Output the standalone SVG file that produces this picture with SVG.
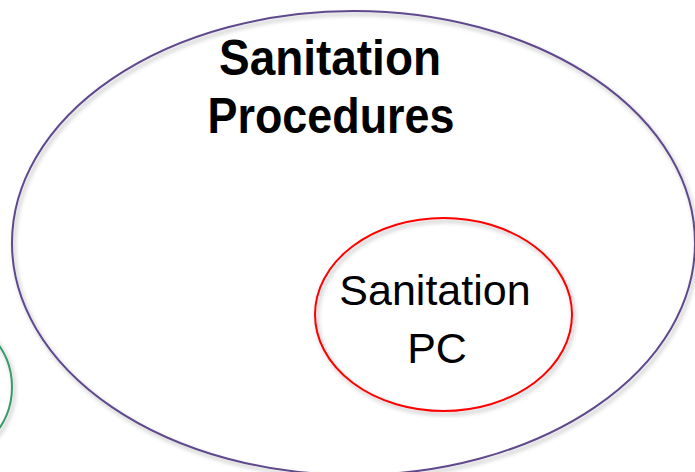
<svg xmlns="http://www.w3.org/2000/svg" width="695" height="472" viewBox="0 0 695 472">
<defs>
<filter id="sh" x="-10%" y="-10%" width="120%" height="120%">
<feDropShadow dx="2" dy="3" stdDeviation="2" flood-color="#000" flood-opacity="0.3"/>
</filter>
<style>
.shape{fill:none;stroke-width:2;filter:url(#sh)}
.title{font-family:"Liberation Sans",Arial,sans-serif;font-weight:bold;font-size:50px;fill:#000;text-anchor:middle}
.label{font-family:"Liberation Sans",Arial,sans-serif;font-size:43px;fill:#000;text-anchor:middle}
</style>
</defs>
<rect width="695" height="472" fill="#fff"/>
<g id="green-circle">
<ellipse class="shape" cx="-61" cy="387" rx="73" ry="73" stroke="#3a9a6a"/>
</g>
<g id="sanitation-procedures">
<ellipse class="shape" cx="353.5" cy="243" rx="341.5" ry="232" stroke="#5e4a8c"/>
<text class="title" x="330" y="75" textLength="222" lengthAdjust="spacingAndGlyphs">Sanitation</text>
<text class="title" x="331" y="133" textLength="247" lengthAdjust="spacingAndGlyphs">Procedures</text>
</g>
<g id="sanitation-pc">
<ellipse class="shape" cx="443.5" cy="314.5" rx="128.5" ry="96.5" stroke="#ff0000"/>
<text class="label" x="435" y="305">Sanitation</text>
<text class="label" x="437" y="363">PC</text>
</g>
<g id="connectors"/>
</svg>
